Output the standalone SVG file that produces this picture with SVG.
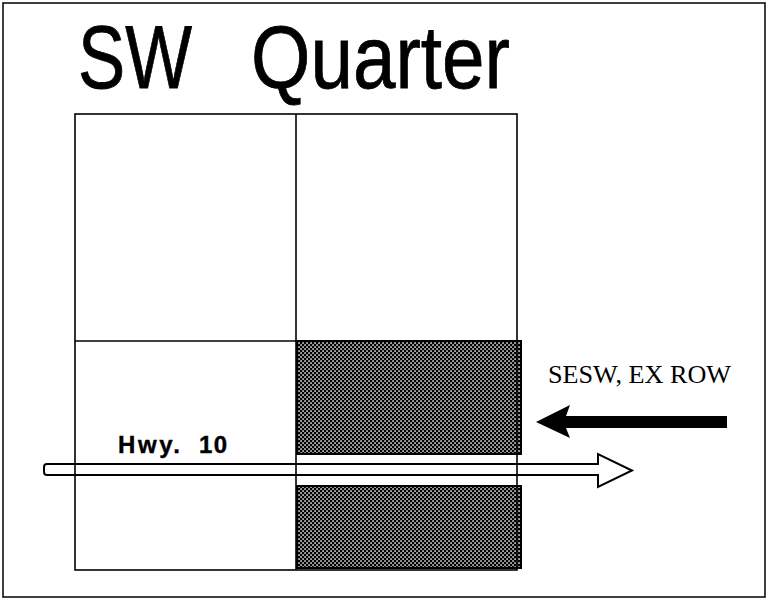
<svg xmlns="http://www.w3.org/2000/svg" width="769" height="603" viewBox="0 0 769 603">
<style>
.ln{fill:none;stroke:#000;stroke-width:1.6}
.title{font-family:"Liberation Sans",Arial,sans-serif;font-size:89px;fill:#000;stroke:#000;stroke-width:0.8}
.hwy{font-family:"Liberation Sans",Arial,sans-serif;font-weight:bold;font-size:24px;fill:#000;stroke:#000;stroke-width:0.4}
.lbl{font-family:"Liberation Serif","Times New Roman",serif;font-size:25px;fill:#000}
</style>
<defs>
<pattern id="dots" width="4" height="4" patternUnits="userSpaceOnUse">
<rect width="4" height="4" fill="#000"/>
<rect x="0.3" y="0.3" width="1.5" height="1.5" fill="#fff"/>
<rect x="2.3" y="2.3" width="1.5" height="1.5" fill="#fff"/>
</pattern>
</defs>
<rect x="0" y="0" width="769" height="603" fill="#fff"/>
<rect id="frame" x="3" y="3" width="762" height="594" fill="none" stroke="#000" stroke-width="1.5"/>
<g id="title">
<text class="title" y="88"><tspan x="78" textLength="114" lengthAdjust="spacingAndGlyphs">SW</tspan><tspan x="251" textLength="259" lengthAdjust="spacingAndGlyphs">Quarter</tspan></text>
</g>
<g id="sesw-shaded">
<rect x="297" y="341" width="224" height="113" fill="url(#dots)" stroke="#000" stroke-width="2"/>
<rect x="297" y="486" width="224" height="82" fill="url(#dots)" stroke="#000" stroke-width="2"/>
</g>
<g id="grid">
<rect class="ln" x="75" y="114" width="442" height="456"/>
<line class="ln" x1="296" y1="114" x2="296" y2="570"/>
<line class="ln" x1="75" y1="341" x2="517" y2="341"/>
</g>
<g id="connectors">
<path id="hwy10-arrow" d="M598,464 H47 Q44,464 44,467 V472 Q44,475 47,475 H598 V487 L632,470.5 L598,454 Z" fill="none" stroke="#000" stroke-width="2"/>
<polygon id="row-arrow" points="536,422 570,405 566,416 727,416 727,428 566,428 570,438" fill="#000"/>
</g>
<g id="labels">
<text class="hwy" y="453"><tspan x="118" textLength="62" lengthAdjust="spacing">Hwy.</tspan><tspan x="199" textLength="28" lengthAdjust="spacing">10</tspan></text>
<text class="lbl" x="548" y="383" textLength="183" lengthAdjust="spacingAndGlyphs">SESW, EX ROW</text>
</g>
</svg>
